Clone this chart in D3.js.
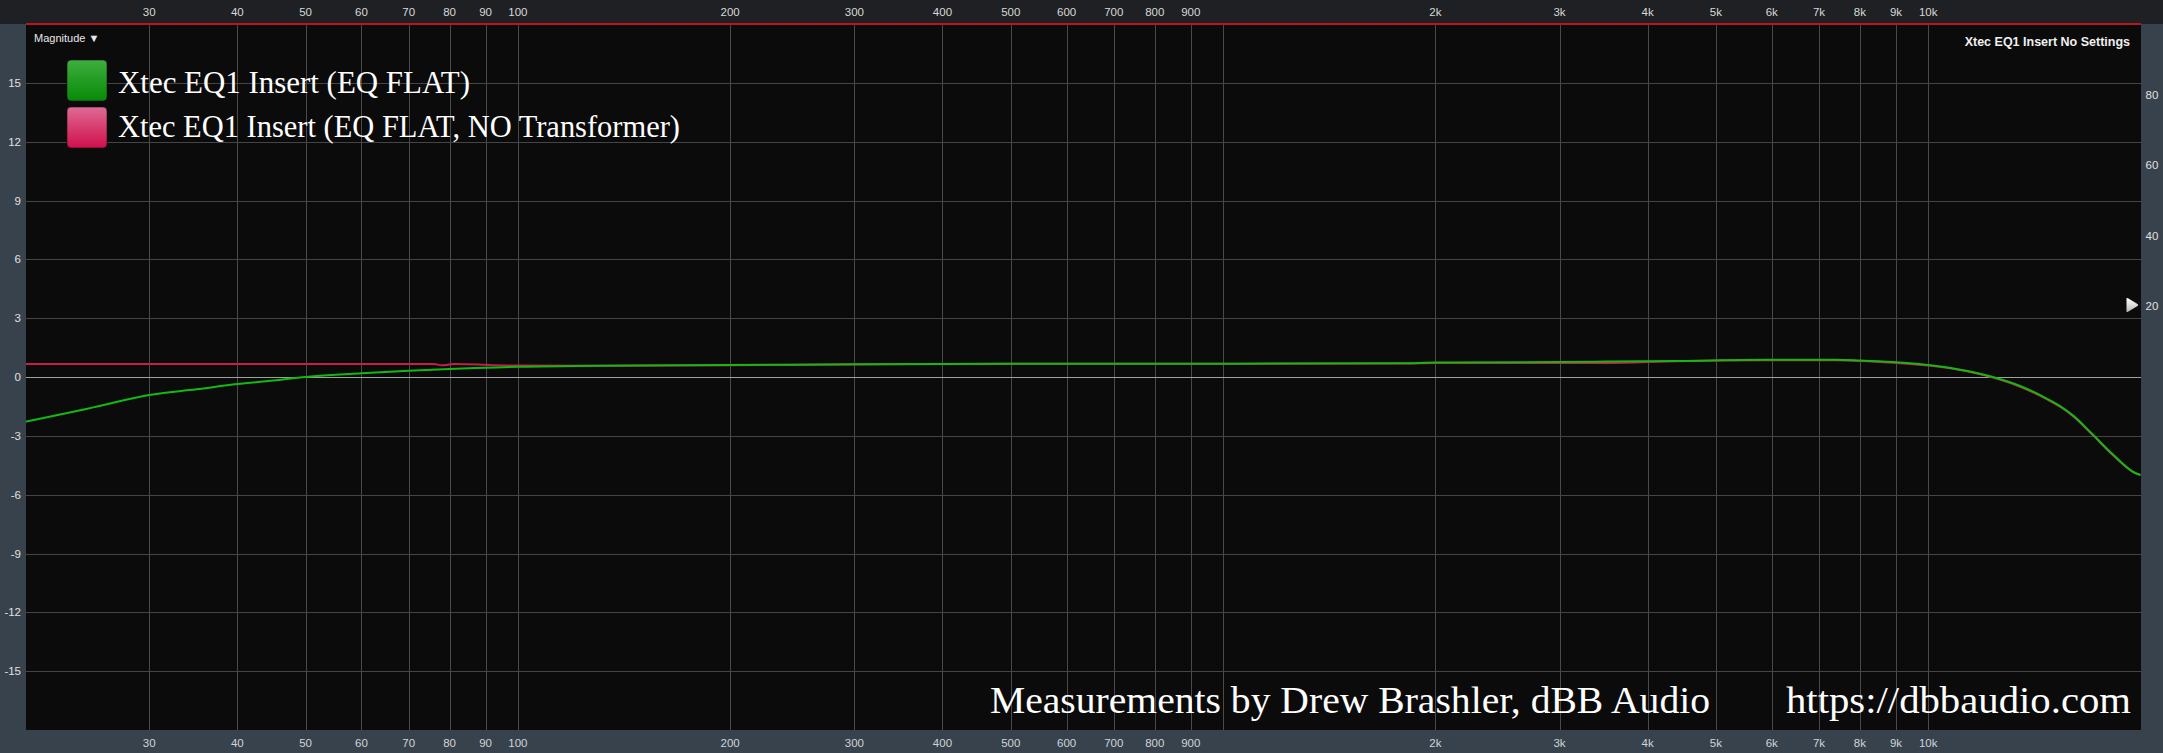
<!DOCTYPE html>
<html><head><meta charset="utf-8">
<script src="https://cdn.jsdelivr.net/npm/d3@7"></script>
<style>html,body{margin:0;padding:0;background:#0b0b0b;overflow:hidden}</style>
</head><body>
<svg id="c" width="2163" height="753"></svg>
<script>
// ---------- data ----------
const gridFreqs = [30,40,50,60,70,80,90,100,200,300,400,500,600,700,800,900,1000,2000,3000,4000,5000,6000,7000,8000,9000,10000];
const freqLabels = [30,40,50,60,70,80,90,100,200,300,400,500,600,700,800,900,2000,3000,4000,5000,6000,7000,8000,9000,10000];
const dbTicks = [-15,-12,-9,-6,-3,0,3,6,9,12,15];
const rightTicks = [20,40,60,80];
const seriesNames = ["Xtec EQ1 Insert (EQ FLAT)", "Xtec EQ1 Insert (EQ FLAT, NO Transformer)"];

const greenFreq = [20,22,25,30,35,40,45,50,60,70,80,90,100,130,200,300,500,1000,1800,2000,3000,3500,4400,5900,7400,8000,8900,10000,11000,12350,13500,14700,15400,16050,17100,18300,19600,20000];
const greenDb   = [-2.28,-1.98,-1.55,-0.92,-0.63,-0.36,-0.18,0.0,0.19,0.32,0.41,0.47,0.52,0.58,0.61,0.65,0.68,0.68,0.70,0.74,0.76,0.79,0.82,0.88,0.88,0.84,0.76,0.61,0.40,0.0,-0.46,-1.09,-1.5,-1.97,-2.92,-3.97,-4.87,-5.0];

const redFreq = [20,50,76,78,81,88,92,100,130,200,300,500,1000,1800,2000,3000,3500,4400,5900,7400,8000,8900,10000,11000,12350,13500,14700,15400,16050,17100,18300,19600,20000];
const redDb   = [0.66,0.66,0.66,0.60,0.66,0.64,0.60,0.59,0.58,0.60,0.64,0.67,0.67,0.69,0.72,0.71,0.71,0.80,0.85,0.85,0.82,0.73,0.58,0.38,-0.03,-0.5,-1.12,-1.53,-2.0,-2.95,-4.0,-4.88,-5.0];

// ---------- layout ----------
const W = 2163, H = 753;
const PL = 26, PR = 2141, PT = 24, PB = 730;
const svg = d3.select("#c");
const x = d3.scaleLog().domain([20, 20000]).range([25, 2140.5]);
const y = d3.scaleLinear().domain([-18, 18]).range([PB, PT]);
const yR = d3.scaleLinear().domain([-100, 100]).range([PB, PT]);

const defs = svg.append("defs");
defs.append("clipPath").attr("id","plotclip").append("rect")
  .attr("x",PL).attr("y",PT).attr("width",PR-PL).attr("height",PB-PT);
function grad(id, c1, c2){
  const g = defs.append("linearGradient").attr("id",id).attr("x1",0).attr("y1",0).attr("x2",0).attr("y2",1);
  g.append("stop").attr("offset","0%").attr("stop-color",c1);
  g.append("stop").attr("offset","100%").attr("stop-color",c2);
}
grad("gGreen","#3fae3f","#078a07");
grad("gPink","#de6a94","#d0104c");
grad("gMark","#ffffff","#b8b8b8");

// panels
svg.append("rect").attr("x",0).attr("y",0).attr("width",W).attr("height",H).attr("fill","#38424d");
svg.append("rect").attr("x",0).attr("y",0).attr("width",W).attr("height",PT).attr("fill","#1e2024");
svg.append("rect").attr("x",PL).attr("y",PT).attr("width",PR-PL).attr("height",PB-PT).attr("fill","#0b0b0b");

// grid
const grid = svg.append("g").attr("clip-path","url(#plotclip)");
grid.selectAll("line.v").data(gridFreqs).join("line")
  .attr("x1",d=>Math.round(x(d))+0.5).attr("x2",d=>Math.round(x(d))+0.5)
  .attr("y1",PT).attr("y2",PB).attr("stroke","#4a4a4a").attr("stroke-width",1);
grid.selectAll("line.h").data(dbTicks).join("line")
  .attr("x1",PL).attr("x2",PR)
  .attr("y1",d=>Math.round(y(d))+0.5).attr("y2",d=>Math.round(y(d))+0.5)
  .attr("stroke",d=>d===0?"#a0a0a0":"#454545").attr("stroke-width",d=>d===0?1.2:1);

// top red line
svg.append("line").attr("x1",PL).attr("x2",PR).attr("y1",PT).attr("y2",PT)
  .attr("stroke","#b8161c").attr("stroke-width",2);

// axis labels
const fmt = d => d >= 1000 ? (d/1000)+"k" : String(d);
const tickFont = "'Liberation Sans', Arial, sans-serif";
[15.5, 746.5].forEach(yy=>{
  svg.append("g").selectAll("text").data(freqLabels).join("text")
    .attr("x",d=>x(d)).attr("y",yy).attr("text-anchor","middle")
    .attr("font-family",tickFont).attr("font-size",11.5).attr("fill",yy<100?"#d8d8d8":"#d0d4d8")
    .text(fmt);
});
svg.append("g").selectAll("text").data(dbTicks).join("text")
  .attr("x",21).attr("y",d=>y(d)+4).attr("text-anchor","end")
  .attr("font-family",tickFont).attr("font-size",11.5).attr("fill","#e0e0e0")
  .text(d=>d);
svg.append("g").selectAll("text").data(rightTicks).join("text")
  .attr("x",2152).attr("y",d=>yR(d)+4).attr("text-anchor","middle")
  .attr("font-family",tickFont).attr("font-size",11.5).attr("fill","#e0e0e0")
  .text(d=>d);

// curves
const line = (fs, ds) => d3.line().curve(d3.curveMonotoneX)
  .x((d,i)=>x(fs[i])).y((d,i)=>y(ds[i]))(ds);
const curves = svg.append("g").attr("clip-path","url(#plotclip)");
curves.append("path").attr("d",line(redFreq, redDb)).attr("fill","none")
  .attr("stroke","#c41e4a").attr("stroke-width",2);
curves.append("path").attr("d",line(greenFreq, greenDb)).attr("fill","none")
  .attr("stroke","#14b814").attr("stroke-width",2);

// marker triangle near right axis
svg.append("path").attr("d","M2126.5,299 Q2126,297.5 2128,298.3 L2137.5,304 Q2139,305 2137.5,306 L2128,311.7 Q2126,312.5 2126.5,311 Z")
  .attr("fill","url(#gMark)");

// text
svg.append("text").attr("x",34).attr("y",41.5)
  .attr("font-family",tickFont).attr("font-size",11).attr("fill","#e8e8e8")
  .text("Magnitude \u25BC");
svg.append("text").attr("x",2130).attr("y",46).attr("text-anchor","end")
  .attr("font-family",tickFont).attr("font-weight","bold").attr("font-size",12.5).attr("fill","#f0f0f0")
  .text("Xtec EQ1 Insert No Settings");

// legend
const serif = "'Liberation Serif', 'DejaVu Serif', serif";
const legendFills = ["url(#gGreen)","url(#gPink)"];
const legendY = [60, 107];
const legendBase = [93, 137];
const legendLen = [352, 562];
seriesNames.forEach((nm,i)=>{
  svg.append("rect").attr("x",67).attr("y",legendY[i]).attr("width",40).attr("height",41)
    .attr("rx",4).attr("fill",legendFills[i]).attr("stroke","#000").attr("stroke-opacity",0.5).attr("stroke-width",1);
  svg.append("text").attr("x",118).attr("y",legendBase[i])
    .attr("font-family",serif).attr("font-size",31).attr("fill","#ffffff")
    .attr("textLength",legendLen[i]).attr("lengthAdjust","spacingAndGlyphs")
    .text(nm);
});

// watermark
svg.append("text").attr("x",990).attr("y",713)
  .attr("font-family",serif).attr("font-size",37).attr("fill","#ffffff")
  .attr("textLength",720).attr("lengthAdjust","spacingAndGlyphs")
  .text("Measurements by Drew Brashler, dBB Audio");
svg.append("text").attr("x",1786).attr("y",713)
  .attr("font-family",serif).attr("font-size",37).attr("fill","#ffffff")
  .attr("textLength",345).attr("lengthAdjust","spacingAndGlyphs")
  .text("https://dbbaudio.com");
</script>
</body></html>
